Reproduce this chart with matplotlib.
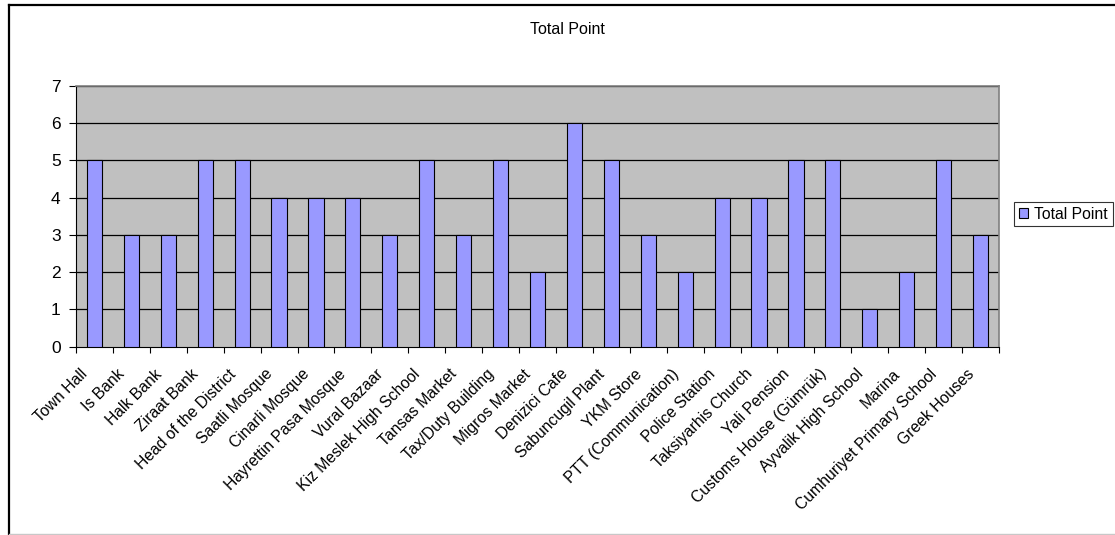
import matplotlib
matplotlib.use("Agg")
import matplotlib.pyplot as plt
from matplotlib.lines import Line2D

plt.rcParams['font.family'] = ['Liberation Sans', 'DejaVu Sans']

categories = [
    "Town Hall", "Is Bank", "Halk Bank", "Ziraat Bank", "Head of the District",
    "Saatli Mosque", "Cinarli Mosque", "Hayrettin Pasa Mosque", "Vural Bazaar",
    "Kiz Meslek High School", "Tansas Market", "Tax/Duty Building", "Migros Market",
    "Denizici Cafe", "Sabuncugil Plant", "YKM Store", "PTT (Communication)",
    "Police Station", "Taksiyarhis Church", "Yali Pension", "Customs House (Gümrük)",
    "Ayvalik High School", "Marina", "Cumhuriyet Primary School", "Greek Houses",
]
total_point = [5, 3, 3, 5, 5, 4, 4, 4, 3, 5, 3, 5, 2, 6, 5, 3, 2, 4, 4, 5, 5, 1, 2, 5, 3]
y_ticks = [0, 1, 2, 3, 4, 5, 6, 7]
series_name = "Total Point"

W, H = 1115, 535
fig = plt.figure(figsize=(W / 100, H / 100), dpi=100)
fig.patch.set_facecolor("white")

# chart-area frame (runs off the right edge)
fig.add_artist(Line2D([8.5 / W, 8.5 / W], [1 - 4.5 / H, 1.5 / H], color="black", lw=1.6, transform=fig.transFigure))
fig.add_artist(Line2D([8.5 / W, 1.0], [1 - 4.5 / H, 1 - 4.5 / H], color="black", lw=1.6, transform=fig.transFigure))
fig.add_artist(Line2D([8.5 / W, 1.0], [1.2 / H, 1.2 / H], color="#c8c8c8", lw=1.0, transform=fig.transFigure))

left, right, top, bottom = 76, 999, 85.7, 346.7
ax = fig.add_axes([left / W, 1 - bottom / H, (right - left) / W, (bottom - top) / H])
ax.set_facecolor("#c0c0c0")

x = list(range(len(categories)))
ax.bar(x, total_point, width=0.41, color="#9999ff", edgecolor="black", linewidth=0.8,
       zorder=3, label=series_name)

ax.set_xlim(-0.5, len(categories) - 0.5)
ax.set_ylim(0, 7)
ax.set_yticks(y_ticks)
ax.set_yticklabels([str(v) for v in y_ticks], fontsize=12.5)
for v in y_ticks[1:]:
    ax.axhline(v, color="black", lw=0.9, zorder=1)

# category ticks sit between bars
ax.set_xticks([i - 0.5 for i in range(len(categories) + 1)], minor=False)
ax.set_xticklabels([])
ax.tick_params(axis="x", length=4, width=0.8, color="black")
ax.tick_params(axis="y", length=5, width=0.8, color="black", pad=6)
for i, name in enumerate(categories):
    ax.annotate(name, xy=(i, 0), xycoords="data", xytext=(-6.5, -18), textcoords="offset points",
                rotation=45, rotation_mode="anchor", ha="right", va="center", fontsize=11.3)

for side in ("top", "right"):
    ax.spines[side].set_color("#808080")
    ax.spines[side].set_linewidth(1.2)
ax.spines["left"].set_color("black")
ax.spines["bottom"].set_color("black")
ax.spines["left"].set_linewidth(0.8)
ax.spines["bottom"].set_linewidth(0.8)

fig.text(567 / W, 1 - 29 / H, "Total Point", ha="center", va="center", fontsize=11.5)

leg = fig.legend(loc="upper left", bbox_to_anchor=(1014 / W, 1 - 202 / H), fontsize=11.3,
                 frameon=True, fancybox=False, handlelength=0.6, handleheight=0.6,
                 handletextpad=0.4, borderpad=0.3, borderaxespad=0)
leg.get_frame().set_edgecolor("black")
leg.get_frame().set_linewidth(0.8)

fig.savefig("out.png", dpi=100, facecolor="white")
